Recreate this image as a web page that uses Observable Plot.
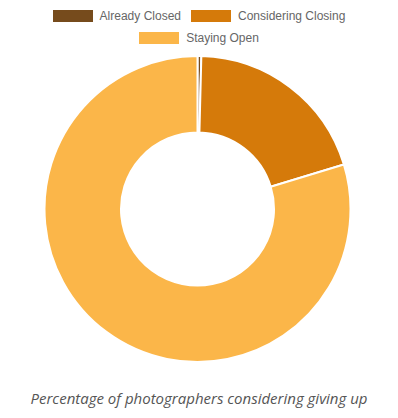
<!DOCTYPE html>
<html><head><meta charset="utf-8">
<script src="https://cdn.jsdelivr.net/npm/d3@7"></script>
<script src="https://cdn.jsdelivr.net/npm/@observablehq/plot@0.6"></script>
<style>
body{margin:0;background:#fff;width:398px;font-family:"Liberation Sans",Arial,sans-serif;}
#legend{display:flex;flex-wrap:wrap;justify-content:center;padding:10px 20px 0;row-gap:10px;column-gap:10px;height:54px;box-sizing:border-box;align-content:flex-start}
.item{display:flex;align-items:center;height:12px;font-size:12px;line-height:12px;color:#666}
.sw{width:40px;height:12px;margin-right:7px}
#chart svg{display:block}
#caption{text-align:center;font-family:"Open Sans";font-style:italic;font-size:15px;line-height:20px;color:#555;margin-top:24px}
</style>
</head><body>
<div id="legend"></div>
<div id="chart"></div>
<div id="caption"></div>
<script>
const labels = ["Already Closed", "Considering Closing", "Staying Open"];
const values = [0.4, 19.9, 79.7];
const colors = ["#764b1c", "#d57a0a", "#fbb649"];
const captionText = "Percentage of photographers considering giving up";

const data = labels.map((label, i) => ({label, value: values[i]}));

// legend
const legend = document.getElementById("legend");
labels.forEach((l, i) => {
  const it = document.createElement("div");
  it.className = "item";
  const sw = document.createElement("div");
  sw.className = "sw";
  sw.style.background = colors[i];
  it.appendChild(sw);
  it.appendChild(document.createTextNode(l));
  legend.appendChild(it);
});

const donut = (index, scales, channels, dims) => {
  const color = scales.color || d3.scaleOrdinal(labels, colors);
  const cx = (dims.marginLeft + dims.width - dims.marginRight) / 2;
  const cy = (dims.marginTop + dims.height - dims.marginBottom) / 2;
  const R = Math.min(dims.width - dims.marginLeft - dims.marginRight, dims.height - dims.marginTop - dims.marginBottom) / 2 - 2;
  const pie = d3.pie().sort(null).value(d => d.value)(data);
  const arc = d3.arc().innerRadius(R * 0.5).outerRadius(R);
  const g = d3.create("svg:g").attr("transform", `translate(${cx},${cy})`);
  g.selectAll("path").data(pie).join("path")
    .attr("d", arc)
    .attr("fill", d => color(d.data.label))
    .attr("stroke", "#fff")
    .attr("stroke-width", 2)
    .attr("stroke-linejoin", "round");
  return g.node();
};

const plot = Plot.plot({
  width: 398,
  height: 310,
  marginTop: 0, marginBottom: 0, marginLeft: 0, marginRight: 3,
  x: {axis: null},
  y: {axis: null},
  color: {domain: labels, range: colors},
  marks: [
    Plot.dot(data, {fill: "label", r: 0}),
    donut
  ]
});
document.getElementById("chart").appendChild(plot);
document.getElementById("caption").textContent = captionText;
</script>
</body></html>
